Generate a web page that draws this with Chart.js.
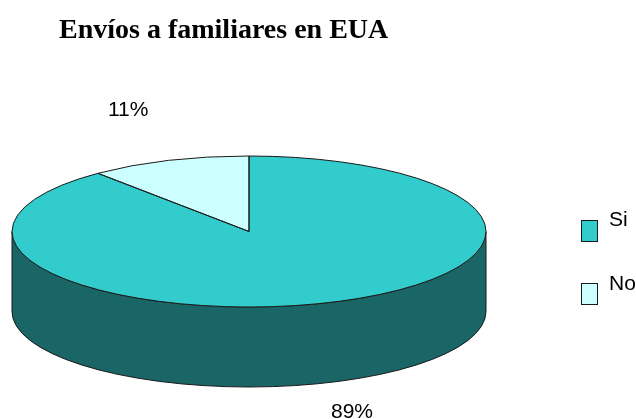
<!DOCTYPE html>
<html>
<head>
<meta charset="utf-8">
<style>html,body{margin:0;padding:0;background:#fff}canvas{display:block}</style>
<script src="https://cdn.jsdelivr.net/npm/chart.js@4"></script>
</head>
<body>
<canvas id="c" width="636" height="419"></canvas>
<script>
const titleText = "Envíos a familiares en EUA";
const categories = ["Si", "No"];
const values = [89, 11];
const valueLabels = ["89%", "11%"];
const sliceColors = ["#33CCCC", "#CCFFFF"];
const sideColor = "#1A6666";
const lineColor = "#1a1a1a";

const squash = 75.5 / 237;
const depth = 80;

const pie3d = {
  id: "pie3d",
  beforeDatasetsDraw(chart) {
    const ctx = chart.ctx;
    const a = chart.getDatasetMeta(0).data[0];
    const R = a.outerRadius, ry = R * squash;
    ctx.save();
    ctx.beginPath();
    ctx.moveTo(a.x - R, a.y);
    ctx.lineTo(a.x - R, a.y + depth);
    ctx.ellipse(a.x, a.y + depth, R, ry, 0, Math.PI, 0, true);
    ctx.lineTo(a.x + R, a.y);
    ctx.ellipse(a.x, a.y, R, ry, 0, 0, Math.PI, false);
    ctx.closePath();
    ctx.fillStyle = sideColor;
    ctx.fill();
    ctx.strokeStyle = lineColor;
    ctx.lineWidth = 1;
    ctx.stroke();
    ctx.restore();
    ctx.save();
    ctx.translate(a.x, a.y);
    ctx.scale(1, squash);
    ctx.translate(-a.x, -a.y);
  },
  afterDatasetsDraw(chart) {
    const ctx = chart.ctx;
    ctx.restore();
    ctx.save();
    ctx.strokeStyle = lineColor;
    ctx.lineWidth = 1;
    chart.getDatasetMeta(0).data.forEach(a => {
      const R = a.outerRadius, ry = R * squash;
      ctx.beginPath();
      ctx.moveTo(a.x, a.y);
      ctx.ellipse(a.x, a.y, R, ry, 0, a.startAngle, a.endAngle, false);
      ctx.closePath();
      ctx.stroke();
    });
    ctx.restore();
  },
  afterDraw(chart) {
    const ctx = chart.ctx;
    ctx.save();
    ctx.textBaseline = "alphabetic";
    ctx.textAlign = "left";
    ctx.fillStyle = "#000";
    ctx.font = "bold 28px 'Liberation Serif'";
    ctx.fillText(titleText, 59, 38);
    ctx.font = "21px 'Liberation Sans'";
    ctx.fillText(valueLabels[1], 108, 116);
    ctx.fillText(valueLabels[0], 331, 418);
    categories.forEach((name, i) => {
      const sx = 581.5, sy = 220.5 + i * 63;
      ctx.fillStyle = sliceColors[i];
      ctx.fillRect(sx, sy, 16, 21);
      ctx.strokeStyle = lineColor;
      ctx.lineWidth = 1;
      ctx.strokeRect(sx, sy, 16, 21);
      ctx.fillStyle = "#000";
      ctx.fillText(name, 609, 226 + i * 64);
    });
    ctx.restore();
  }
};

new Chart(document.getElementById("c"), {
  type: "pie",
  data: {
    labels: categories,
    datasets: [{ data: values, backgroundColor: sliceColors, borderWidth: 0 }]
  },
  options: {
    responsive: false,
    animation: false,
    radius: 237,
    layout: { padding: { left: 0, right: 138, top: 44, bottom: 0 } },
    plugins: { legend: { display: false }, tooltip: { enabled: false }, title: { display: false } },
    events: []
  },
  plugins: [pie3d]
});
</script>
</body>
</html>
